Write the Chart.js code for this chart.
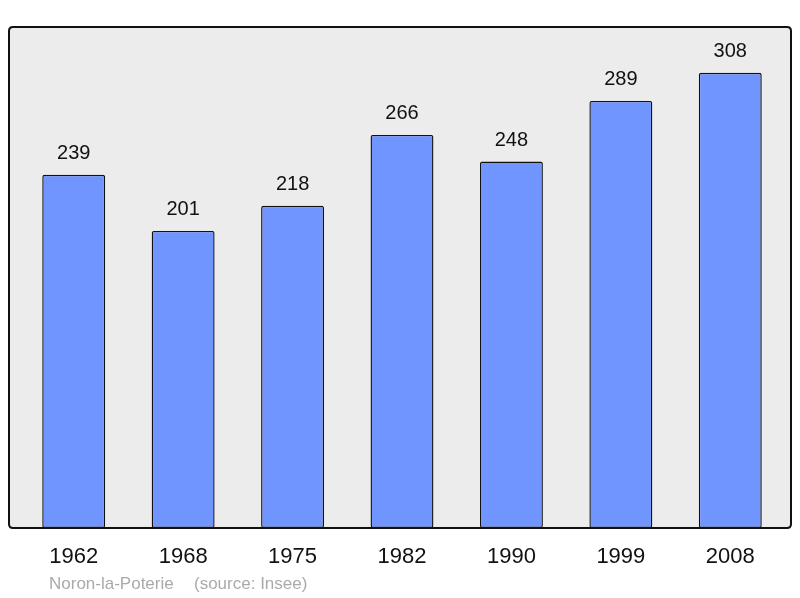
<!DOCTYPE html>
<html>
<head>
<meta charset="utf-8">
<script src="https://cdn.jsdelivr.net/npm/chart.js@4"></script>
<style>
    body { margin: 0; background: #fff; }
    #wrap { width: 800px; height: 598px; }
</style>
</head>
<body>
<div id="wrap"><canvas id="myChart" width="800" height="598"></canvas></div>
<script>
let years = ['1962', '1968', '1975', '1982', '1990', '1999', '2008'];
let population = [239, 201, 218, 266, 248, 289, 308];
let footerCommune = 'Noron-la-Poterie';
let footerSource = '(source: Insee)';

function roundRect(ctx, x, y, w, h, r) {
    ctx.beginPath();
    ctx.moveTo(x + r, y);
    ctx.lineTo(x + w - r, y);
    ctx.quadraticCurveTo(x + w, y, x + w, y + r);
    ctx.lineTo(x + w, y + h - r);
    ctx.quadraticCurveTo(x + w, y + h, x + w - r, y + h);
    ctx.lineTo(x + r, y + h);
    ctx.quadraticCurveTo(x, y + h, x, y + h - r);
    ctx.lineTo(x, y + r);
    ctx.quadraticCurveTo(x, y, x + r, y);
    ctx.closePath();
}

// grey plot box behind the bars, black frame on top
let plotBox = {
    id: 'plotBox',
    beforeDatasetsDraw(chart) {
        let a = chart.chartArea, ctx = chart.ctx;
        ctx.save();
        roundRect(ctx, a.left - 10, a.top, a.right - a.left + 16, a.bottom - a.top, 4);
        ctx.fillStyle = '#ececec';
        ctx.fill();
        ctx.restore();
    },
    afterDatasetsDraw(chart) {
        let a = chart.chartArea, ctx = chart.ctx;
        ctx.save();
        roundRect(ctx, a.left - 10, a.top, a.right - a.left + 16, a.bottom - a.top, 4);
        ctx.lineWidth = 2;
        ctx.strokeStyle = '#111';
        ctx.stroke();

        // values above bars
        let meta = chart.getDatasetMeta(0);
        ctx.fillStyle = '#111';
        ctx.font = '20px "Liberation Sans", Arial, sans-serif';
        ctx.textAlign = 'center';
        ctx.textBaseline = 'middle';
        meta.data.forEach((bar, i) => {
            ctx.fillText(population[i], bar.x, bar.y - 21);
        });

        // footer
        ctx.fillStyle = '#aaaaaa';
        ctx.font = '17px "Liberation Sans", Arial, sans-serif';
        ctx.textAlign = 'left';
        ctx.fillText(footerCommune, 49, 584);
        ctx.fillText(footerSource, 194, 584);
        ctx.restore();
    }
};

let ctxChart = document.getElementById('myChart').getContext('2d');
let myChart = new Chart(ctxChart, {
    type: 'bar',
    data: {
        labels: years,
        datasets: [{
            data: population,
            backgroundColor: '#7095ff',
            borderColor: '#111',
            borderWidth: 1.4,
            borderRadius: 2,
            borderSkipped: false,
            barPercentage: 0.575,
            categoryPercentage: 1
        }]
    },
    options: {
        responsive: false,
        animation: false,
        layout: {
            padding: { left: 19, right: 15, top: 27, bottom: 0 }
        },
        plugins: {
            legend: false,
            tooltip: { enabled: false }
        },
        scales: {
            x: {
                grid: { display: false, drawTicks: false },
                border: { display: false },
                ticks: {
                    color: '#111',
                    padding: 16,
                    font: { size: 22, family: '"Liberation Sans", Arial, sans-serif' }
                },
                afterFit: (scale) => { scale.height = 70; }
            },
            y: {
                display: false,
                min: 0,
                max: 339
            }
        }
    },
    plugins: [plotBox]
});
</script>
</body>
</html>
